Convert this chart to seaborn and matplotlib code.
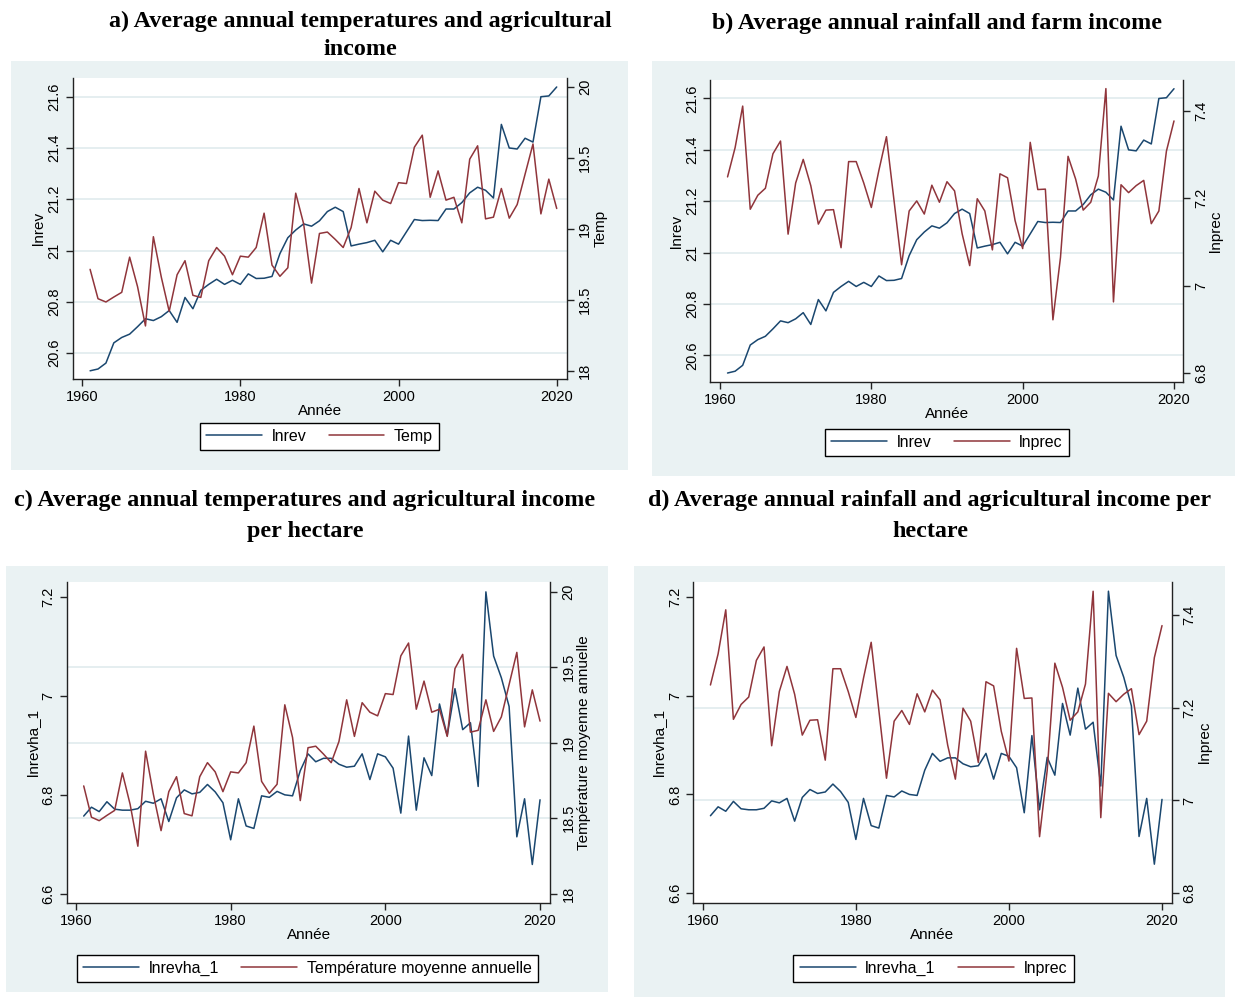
import matplotlib
matplotlib.use("Agg")
import pandas as pd
import matplotlib.pyplot as plt
from matplotlib.patches import Rectangle
import seaborn as sns

# ---- data (1961-2020) ----
years = list(range(1961, 2021))

lnrev = [20.531, 20.538, 20.561, 20.640, 20.661, 20.674, 20.703, 20.734, 20.727, 20.742,
         20.766, 20.720, 20.817, 20.773, 20.845, 20.868, 20.888, 20.868, 20.884, 20.868,
         20.909, 20.891, 20.892, 20.899, 20.988, 21.050, 21.080, 21.104, 21.095, 21.116,
         21.152, 21.169, 21.152, 21.018, 21.025, 21.031, 21.040, 20.995, 21.040, 21.025,
         21.073, 21.121, 21.117, 21.118, 21.117, 21.162, 21.162, 21.187, 21.225, 21.247,
         21.235, 21.205, 21.492, 21.400, 21.396, 21.438, 21.423, 21.600, 21.603, 21.638]

temp = [18.714, 18.507, 18.484, 18.519, 18.552, 18.800, 18.592, 18.315, 18.944, 18.660,
        18.418, 18.676, 18.775, 18.531, 18.516, 18.775, 18.868, 18.807, 18.676, 18.807,
        18.800, 18.868, 19.110, 18.744, 18.665, 18.725, 19.251, 19.035, 18.617, 18.967,
        18.977, 18.925, 18.868, 19.008, 19.284, 19.042, 19.265, 19.202, 19.178, 19.325,
        19.319, 19.575, 19.660, 19.222, 19.408, 19.202, 19.222, 19.042, 19.491, 19.585,
        19.070, 19.082, 19.284, 19.075, 19.171, 19.385, 19.598, 19.105, 19.350, 19.143]

lnprec = [7.249, 7.316, 7.411, 7.175, 7.207, 7.223, 7.302, 7.331, 7.118, 7.235,
          7.289, 7.229, 7.141, 7.173, 7.174, 7.087, 7.284, 7.284, 7.235, 7.179,
          7.264, 7.341, 7.195, 7.048, 7.171, 7.194, 7.164, 7.230, 7.191, 7.238,
          7.217, 7.119, 7.046, 7.199, 7.171, 7.082, 7.256, 7.247, 7.149, 7.085,
          7.328, 7.220, 7.221, 6.922, 7.065, 7.296, 7.244, 7.173, 7.191, 7.251,
          7.451, 6.963, 7.231, 7.213, 7.229, 7.241, 7.142, 7.171, 7.308, 7.377]

lnrevha_1 = [6.757, 6.775, 6.766, 6.786, 6.771, 6.769, 6.769, 6.772, 6.787, 6.783,
             6.792, 6.746, 6.794, 6.810, 6.802, 6.805, 6.821, 6.806, 6.784, 6.709,
             6.792, 6.737, 6.732, 6.798, 6.795, 6.807, 6.800, 6.798, 6.849, 6.883,
             6.867, 6.874, 6.874, 6.862, 6.856, 6.858, 6.883, 6.831, 6.883, 6.877,
             6.854, 6.763, 6.919, 6.769, 6.875, 6.839, 6.984, 6.920, 7.015, 6.932,
             6.946, 6.817, 7.211, 7.081, 7.037, 6.979, 6.715, 6.792, 6.659, 6.790]

# ---- axis ticks ----
x_ticks = [1960, 1980, 2000, 2020]
lnrev_ticks = [20.6, 20.8, 21.0, 21.2, 21.4, 21.6]
lnrev_labels = ["20.6", "20.8", "21", "21.2", "21.4", "21.6"]
temp_ticks = [18, 18.5, 19, 19.5, 20]
temp_labels = ["18", "18.5", "19", "19.5", "20"]
lnprec_ticks = [6.8, 7.0, 7.2, 7.4]
lnprec_labels = ["6.8", "7", "7.2", "7.4"]
lnrevha_ticks = [6.6, 6.8, 7.0, 7.2]
lnrevha_labels = ["6.6", "6.8", "7", "7.2"]

W, H = 1235, 997
NAVY = "#1a476f"
MAROON = "#90353b"
BG = "#eaf2f3"
GRID = "#e3edef"

sns.set_theme(style="white")
plt.rcParams['font.family'] = ['Liberation Sans', 'DejaVu Sans']
plt.rcParams['text.color'] = 'black'

df = pd.DataFrame({"year": years, "lnrev": lnrev, "temp": temp,
                   "lnprec": lnprec, "lnrevha_1": lnrevha_1})


def fig_rect(x0, y0, x1, y1):
    return [x0 / W, 1 - y1 / H, (x1 - x0) / W, (y1 - y0) / H]


panels = [
    dict(title="a) Average annual temperatures and agricultural\nincome",
         title_xy=(360, 35.5), bg=(11, 61, 628, 470), plot=(72.7, 78, 567, 379),
         xlim=(1958.8, 2021.3), left="lnrev", right="temp",
         ylim=(20.499, 21.673), y2lim=(17.941, 20.063),
         yt=(lnrev_ticks, lnrev_labels), y2t=(temp_ticks, temp_labels),
         ylab="lnrev", y2lab="Temp", grid="left",
         leg=("lnrev", "Temp"), leg_xy=(319.5, 436.5)),
    dict(title="b) Average annual rainfall and farm income",
         title_xy=(937, 23.5), bg=(652, 61, 1235, 476), plot=(710.3, 80, 1183, 382),
         xlim=(1958.72, 2021.19), left="lnrev", right="lnprec",
         ylim=(20.496, 21.672), y2lim=(6.7797, 7.4707),
         yt=(lnrev_ticks, lnrev_labels), y2t=(lnprec_ticks, lnprec_labels),
         ylab="lnrev", y2lab="lnprec", grid="left",
         leg=("lnrev", "lnprec"), leg_xy=(947, 442.5)),
    dict(title="c) Average annual temperatures and agricultural income\nper hectare",
         title_xy=(305, 516), bg=(6, 566, 608, 992), plot=(66.7, 582, 550.4, 903),
         xlim=(1958.8, 2021.34), left="lnrevha_1", right="temp",
         ylim=(6.581, 7.231), y2lim=(17.939, 20.064),
         yt=(lnrevha_ticks, lnrevha_labels), y2t=(temp_ticks, temp_labels),
         ylab="lnrevha_1", y2lab="Température moyenne annuelle", grid="right",
         leg=("lnrevha_1", "Température moyenne annuelle"), leg_xy=(307.5, 968.5)),
    dict(title="d) Average annual rainfall and agricultural income per\nhectare",
         title_xy=(930, 516), bg=(634, 566, 1225, 997), plot=(693, 582, 1171.5, 903),
         xlim=(1958.72, 2021.24), left="lnrevha_1", right="lnprec",
         ylim=(6.5805, 7.2296), y2lim=(6.779, 7.471),
         yt=(lnrevha_ticks, lnrevha_labels), y2t=(lnprec_ticks, lnprec_labels),
         ylab="lnrevha_1", y2lab="lnprec", grid="right",
         leg=("lnrevha_1", "lnprec"), leg_xy=(933.5, 968.5)),
]

fig = plt.figure(figsize=(W / 100, H / 100), dpi=100)
fig.patch.set_facecolor("white")

for i, p in enumerate(panels):
    x0, y0, x1, y1 = p["bg"]
    fig.patches.append(Rectangle((x0 / W, 1 - y1 / H), (x1 - x0) / W, (y1 - y0) / H,
                                 transform=fig.transFigure, facecolor=BG,
                                 edgecolor="none", zorder=-10))
    fig.text(p["title_xy"][0] / W, 1 - p["title_xy"][1] / H, p["title"],
             ha="center", va="center", fontsize=17.3, fontweight="bold", color="black",
             family=["Liberation Serif", "DejaVu Serif"],
             linespacing=1.42 if i == 0 else 1.58)

    ax = fig.add_axes(fig_rect(*p["plot"]))
    ax.set_zorder(1)
    ax2 = ax.twinx()
    ax2.set_zorder(2)
    ax.set_facecolor("white")
    ax2.patch.set_visible(False)

    sns.lineplot(data=df, x="year", y=p["left"], ax=ax, color=NAVY,
                 linewidth=1.1, errorbar=None, legend=False, zorder=3)
    h1 = ax.lines[-1]
    sns.lineplot(data=df, x="year", y=p["right"], ax=ax2, color=MAROON,
                 linewidth=1.1, errorbar=None, legend=False, zorder=3)
    h2 = ax2.lines[-1]

    ax.set_xlim(*p["xlim"])
    ax.set_ylim(*p["ylim"])
    ax2.set_ylim(*p["y2lim"])

    # gridlines (Stata style: left axis for a/b, inner right-axis ticks for c/d)
    if p["grid"] == "left":
        for v in p["yt"][0]:
            ax.axhline(v, color=GRID, lw=1.3, zorder=1)
    else:
        lo, hi = p["y2lim"]
        for v in p["y2t"][0][1:-1]:
            frac = (v - lo) / (hi - lo)
            ax.axhline(p["ylim"][0] + frac * (p["ylim"][1] - p["ylim"][0]),
                       color=GRID, lw=1.3, zorder=1)

    ax.set_xticks(x_ticks, [str(t) for t in x_ticks])
    ax.set_yticks(p["yt"][0], p["yt"][1], rotation=90, va="center")
    ax2.set_yticks(p["y2t"][0], p["y2t"][1], rotation=90, va="center")

    ax.tick_params(axis="both", direction="out", length=5, width=1, color="#222222",
                   labelsize=10.5, pad=3, bottom=True, left=True, labelcolor="black")
    ax2.tick_params(axis="y", direction="out", length=5, width=1, color="#222222",
                    labelsize=10.5, pad=3, right=True, labelcolor="black")

    ax.spines["top"].set_visible(False)
    ax2.spines["top"].set_visible(False)
    ax.spines["right"].set_visible(False)
    ax2.spines["left"].set_visible(False)
    ax2.spines["bottom"].set_visible(False)
    for sp in [ax.spines["left"], ax.spines["bottom"], ax2.spines["right"]]:
        sp.set_color("#222222")
        sp.set_linewidth(1)

    ax.set_xlabel("Année", fontsize=11, labelpad=0, color="black")
    ax.set_ylabel(p["ylab"], fontsize=11, labelpad=1, color="black")
    ax2.set_ylabel(p["y2lab"], fontsize=11, labelpad=1, color="black")

    lg = fig.legend([h1, h2], list(p["leg"]), loc="center",
                    bbox_to_anchor=(p["leg_xy"][0] / W, 1 - p["leg_xy"][1] / H),
                    ncol=2, frameon=True, fancybox=False, edgecolor="black",
                    framealpha=1, fontsize=11.5, handlelength=3.5,
                    handletextpad=0.6, columnspacing=1.4, borderpad=0.4)
    lg.get_frame().set_linewidth(1)

fig.savefig("out.png", dpi=100, facecolor="white")
